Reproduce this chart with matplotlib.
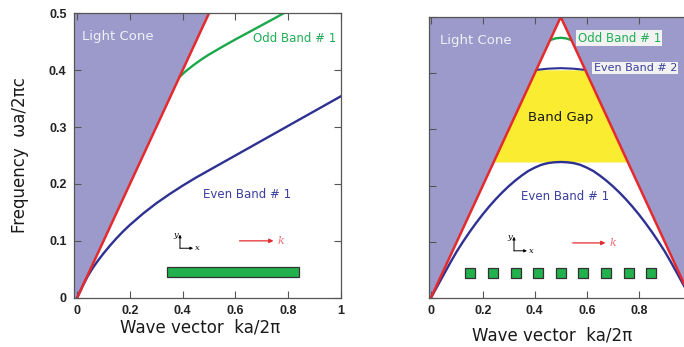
import numpy as np
import matplotlib
matplotlib.use('Agg')
import matplotlib.pyplot as plt

# light line (omega = c k)
cone_k_left = [0.0, 0.5]
cone_w_left = [0.0, 0.5]
cone_k_right = [0.0, 0.5, 1.0]
cone_w_right = [0.0, 0.5, 0.0]

# left panel: uniform slab
even1_k = [0, 0.02, 0.04, 0.06, 0.08, 0.1, 0.125, 0.15, 0.175, 0.2, 0.25, 0.3, 0.35,
           0.4, 0.45, 0.5, 0.55, 0.6, 0.65, 0.7, 0.75, 0.8, 0.85, 0.9, 0.95, 1.0]
even1_w = [0, 0.020, 0.038, 0.053, 0.066, 0.078, 0.092, 0.105, 0.117, 0.128, 0.148,
           0.166, 0.182, 0.197, 0.211, 0.224, 0.237, 0.250, 0.263, 0.276, 0.289,
           0.302, 0.315, 0.328, 0.341, 0.354]
odd1_k = [0.39, 0.41, 0.44, 0.47, 0.5, 0.55, 0.6, 0.65, 0.7, 0.75, 0.783]
odd1_w = [0.389, 0.3975, 0.4085, 0.4185, 0.4275, 0.441, 0.454, 0.4665, 0.479, 0.4915, 0.500]
slab_k = [0.342, 0.843]
slab_w = [0.036, 0.054]

# right panel: periodic slab
p_even1_k = [0, 0.025, 0.05, 0.075, 0.1, 0.125, 0.15, 0.175, 0.2, 0.225, 0.25, 0.275,
             0.3, 0.325, 0.35, 0.375, 0.4, 0.425, 0.45, 0.475, 0.5,
             0.525, 0.55, 0.575, 0.6, 0.625, 0.65, 0.675, 0.7, 0.725, 0.75, 0.775,
             0.8, 0.825, 0.85, 0.875, 0.9, 0.925, 0.95, 0.975, 1.0]
p_even1_w = [0, 0.021, 0.042, 0.063, 0.083, 0.101, 0.118, 0.134, 0.149, 0.163, 0.176,
             0.188, 0.199, 0.209, 0.218, 0.226, 0.232, 0.237, 0.240, 0.2415, 0.242,
             0.2415, 0.240, 0.237, 0.232, 0.226, 0.218, 0.209, 0.199, 0.188, 0.176,
             0.163, 0.149, 0.134, 0.118, 0.101, 0.083, 0.063, 0.042, 0.021, 0]
p_even2_k = [0.408, 0.45, 0.5, 0.55, 0.592]
p_even2_w = [0.406, 0.408, 0.409, 0.408, 0.406]
p_odd1_k = [0.460, 0.48, 0.5, 0.52, 0.540]
p_odd1_w = [0.459, 0.462, 0.463, 0.462, 0.459]
gap_lo, gap_hi = 0.242, 0.406
squares_k = [0.152, 0.239, 0.326, 0.413, 0.5, 0.587, 0.674, 0.761, 0.848]
squares_w = 0.044

LAV = '#9c9acb'
RED = '#e52a2e'
BLUE = '#2e3192'
GREEN = '#1aa84a'
YEL = '#f9ec31'
SPINE = '#555555'

plt.rcParams['font.family'] = ['DejaVu Sans']

fig = plt.figure(figsize=(6.84, 3.47), dpi=100)
ax1 = fig.add_axes([0.1075, 0.142, 0.3906, 0.8196])
ax2 = fig.add_axes([0.6272, 0.1412, 0.3826, 0.8098])


def style(ax, xmin, last_x='1'):
    ax.set_xlim(xmin, 1.0)
    ax.set_ylim(0, 0.5)
    ax.set_xticks([0, 0.2, 0.4, 0.6, 0.8, 1.0])
    ax.set_xticklabels(['0', '0.2', '0.4', '0.6', '0.8', last_x])
    ax.set_yticks([0, 0.1, 0.2, 0.3, 0.4, 0.5])
    ax.set_yticklabels(['0', '0.1', '0.2', '0.3', '0.4', '0.5'])
    ax.tick_params(direction='in', top=True, right=True, length=5, width=0.8,
                   color=SPINE, labelsize=9, labelcolor='#222222', pad=5)
    for tl in ax.get_xticklabels() + ax.get_yticklabels():
        tl.set_family('Liberation Sans')
        tl.set_weight('bold')
    for s in ax.spines.values():
        s.set_color(SPINE)
        s.set_linewidth(0.9)


def coord_icon(ax, k0, w0, dk, dw):
    arr = dict(arrowstyle='-|>', lw=0.7, color='black', mutation_scale=4,
               shrinkA=0, shrinkB=0)
    ax.annotate('', xy=(k0, w0 + dw), xytext=(k0, w0), arrowprops=arr)
    ax.annotate('', xy=(k0 + dk, w0), xytext=(k0, w0), arrowprops=arr)
    ax.text(k0 - 0.006, w0 + dw, 'y', family='DejaVu Serif', style='italic',
            fontsize=6, ha='right', va='center')
    ax.text(k0 + dk + 0.006, w0, 'x', family='DejaVu Serif', style='italic',
            fontsize=6, ha='left', va='center')


def k_arrow(ax, k0, k1, w):
    ax.annotate('', xy=(k1, w), xytext=(k0, w),
                arrowprops=dict(arrowstyle='-|>', lw=0.9, color=RED,
                                mutation_scale=6, shrinkA=0, shrinkB=0))
    ax.text(k1 + 0.015, w, 'k', family='DejaVu Serif', style='italic',
            fontsize=8, color='#ec6f7a', ha='left', va='center')


# ---- left panel ----
style(ax1, -0.014)
ax1.fill_between([-0.014] + cone_k_left, [0.0] + cone_w_left, 0.5, color=LAV, lw=0)
ax1.plot(even1_k, even1_w, color=BLUE, lw=1.7)
ax1.plot(odd1_k, odd1_w, color=GREEN, lw=1.7)
ax1.plot(cone_k_left, cone_w_left, color=RED, lw=1.8, solid_capstyle='butt')
ax1.add_patch(plt.Rectangle((slab_k[0], slab_w[0]), slab_k[1] - slab_k[0],
                            slab_w[1] - slab_w[0], facecolor='#22b14c',
                            edgecolor='#333333', lw=0.9))
ax1.text(0.02, 0.46, 'Light Cone', color='#f0f0f8', fontsize=9.5, va='center')
ax1.text(0.668, 0.456, 'Odd Band # 1', color='#1fae55', fontsize=8.5, va='center')
ax1.text(0.479, 0.182, 'Even Band # 1', color='#3b3f9e', fontsize=8.5, va='center')
coord_icon(ax1, 0.39, 0.087, 0.05, 0.024)
k_arrow(ax1, 0.616, 0.745, 0.1)
ax1.set_xlabel('Wave vector  ka/2\u03c0', fontsize=12, color='#1a1a1a')
ax1.xaxis.set_label_coords(0.473, -0.072)
ax1.set_ylabel('Frequency  \u03c9a/2\u03c0c', fontsize=12, color='#1a1a1a')
ax1.yaxis.set_label_coords(-0.165, 0.5)

# ---- right panel ----
style(ax2, -0.007, last_x='')
ax2.tick_params(labelleft=False)
ax2.fill_between([-0.007] + cone_k_right, [0.0] + cone_w_right, 0.5, color=LAV, lw=0)
ax2.fill_betweenx([gap_lo, gap_hi], [gap_lo, gap_hi], [1 - gap_lo, 1 - gap_hi],
                  color=YEL, lw=0)
ax2.plot(p_even1_k, p_even1_w, color=BLUE, lw=1.7)
ax2.plot(p_even2_k, p_even2_w, color=BLUE, lw=1.5)
ax2.plot(p_odd1_k, p_odd1_w, color=GREEN, lw=1.7)
ax2.plot(cone_k_right, cone_w_right, color=RED, lw=1.8)
ax2.scatter(squares_k, [squares_w] * len(squares_k), marker='s', s=55,
            facecolor='#22b14c', edgecolor='#333333', linewidths=0.9, zorder=3)
ax2.text(0.036, 0.459, 'Light Cone', color='#f0f0f8', fontsize=9.5, va='center')
ax2.text(0.565, 0.462, 'Odd Band # 1', color='#1fae55', fontsize=8.5, va='center',
         bbox=dict(facecolor='#f2f2f2', edgecolor='none', pad=1.0))
ax2.text(0.626, 0.409, 'Even Band # 2', color='#3b3f9e', fontsize=8, va='center',
         bbox=dict(facecolor='#f2f2f2', edgecolor='none', pad=1.0))
ax2.text(0.5, 0.321, 'Band Gap', color='#1a1a1a', fontsize=9.5, ha='center', va='center')
ax2.text(0.347, 0.181, 'Even Band # 1', color='#3b3f9e', fontsize=8.5, va='center')
coord_icon(ax2, 0.32, 0.084, 0.05, 0.025)
k_arrow(ax2, 0.546, 0.672, 0.098)
ax2.set_xlabel('Wave vector  ka/2\u03c0', fontsize=12, color='#1a1a1a')
ax2.xaxis.set_label_coords(0.47, -0.103)

fig.savefig('out.png', dpi=100)
